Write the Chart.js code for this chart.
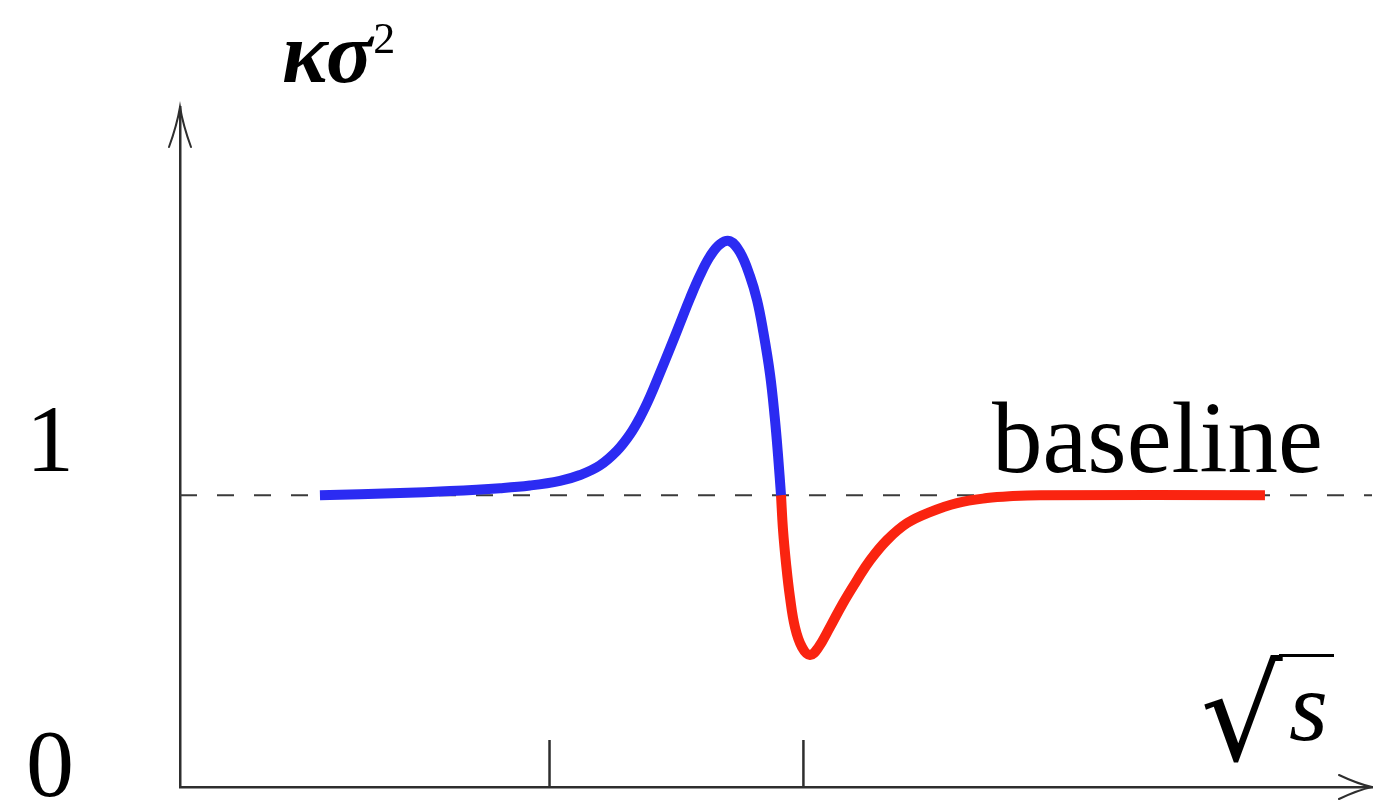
<!DOCTYPE html>
<html>
<head>
<meta charset="utf-8">
<script src="https://cdn.jsdelivr.net/npm/chart.js@4/dist/chart.umd.min.js"></script>
<style>
  html, body { margin: 0; padding: 0; background: #ffffff; overflow: hidden; }
  #wrap { width: 1373px; height: 801px; position: relative; }
</style>
</head>
<body>
<div id="wrap"><canvas id="chart"></canvas></div>
<script>
// Rising branch (blue): kappa*sigma^2 versus sqrt(s), above the baseline
const risingX = [1.174, 1.846, 2.265, 2.685, 2.936, 3.188, 3.356, 3.523, 3.666, 3.775, 3.859, 3.943, 4.027, 4.111, 4.195, 4.279, 4.362, 4.446, 4.530, 4.614, 4.698, 4.782, 4.841, 4.891, 4.950, 4.990, 5.017, 5.042];
const risingY = [1.000, 1.007, 1.014, 1.024, 1.033, 1.049, 1.069, 1.102, 1.152, 1.208, 1.266, 1.337, 1.419, 1.503, 1.589, 1.675, 1.753, 1.818, 1.860, 1.870, 1.832, 1.750, 1.668, 1.565, 1.414, 1.264, 1.137, 1.000];

// Falling branch (red): dip below the baseline, then recovery
const fallingX = [5.042, 5.059, 5.084, 5.117, 5.159, 5.218, 5.285, 5.352, 5.453, 5.562, 5.680, 5.789, 5.931, 6.099, 6.292, 6.518, 6.770, 6.988, 7.215, 9.102];
const fallingY = [1.000, 0.880, 0.767, 0.651, 0.548, 0.479, 0.452, 0.476, 0.548, 0.630, 0.709, 0.777, 0.846, 0.904, 0.942, 0.973, 0.990, 0.997, 1.000, 1.000];

// Reference level and axis marks
const baselineValue = 1;
const xTickValues = [3.1, 5.23];
const yTickValues = [0, 1];
const yTickLabels = ['0', '1'];
const xRange = [0, 10];
const yRange = [0, 2.33];

const toPoints = (xs, ys) => xs.map((x, i) => ({ x, y: ys[i] }));

const SERIF = '"Liberation Serif", "DejaVu Serif", serif';
const AXIS_COLOR = '#2e2e2e';

// Axis arrowheads, small x tick marks and the math labels
const annotations = {
  id: 'annotations',
  afterDraw(chart) {
    const { ctx, scales } = chart;
    const xs = scales.x, ys = scales.y;
    const x0 = xs.getPixelForValue(xRange[0]);
    const xEnd = xs.getPixelForValue(xRange[1]);
    const y0 = ys.getPixelForValue(yRange[0]);
    const yTop = ys.getPixelForValue(yRange[1]);
    ctx.save();
    ctx.strokeStyle = AXIS_COLOR;
    ctx.lineWidth = 2;
    ctx.lineCap = 'round';
    // y arrowhead
    ctx.beginPath();
    ctx.moveTo(x0 - 11, yTop + 40);
    ctx.quadraticCurveTo(x0 - 3, yTop + 18, x0, yTop);
    ctx.quadraticCurveTo(x0 + 3, yTop + 18, x0 + 11, yTop + 40);
    ctx.stroke();
    // x arrowhead
    ctx.beginPath();
    ctx.moveTo(xEnd - 33, y0 - 12);
    ctx.quadraticCurveTo(xEnd - 14, y0 - 3, xEnd, y0);
    ctx.quadraticCurveTo(xEnd - 14, y0 + 3, xEnd - 33, y0 + 12);
    ctx.stroke();
    // x tick marks pointing up from the axis
    ctx.lineWidth = 2.5;
    ctx.lineCap = 'butt';
    xTickValues.forEach(v => {
      const px = xs.getPixelForValue(v);
      ctx.beginPath();
      ctx.moveTo(px, y0);
      ctx.lineTo(px, y0 - 47);
      ctx.stroke();
    });

    ctx.fillStyle = '#000000';
    ctx.textBaseline = 'alphabetic';
    // y tick labels
    ctx.font = '96px ' + SERIF;
    ctx.textAlign = 'center';
    const labelShift = [9, -24];
    yTickValues.forEach((v, i) => {
      ctx.fillText(yTickLabels[i], 50, ys.getPixelForValue(v) + labelShift[i]);
    });

    // y axis title: kappa sigma^2
    ctx.textAlign = 'left';
    ctx.font = 'italic bold 86px ' + SERIF;
    ctx.fillText('κσ', 282, 82);
    const w = ctx.measureText('κσ').width;
    ctx.font = '44px ' + SERIF;
    ctx.fillText('2', 282 + w + 1, 53);

    // baseline label
    ctx.font = '101px ' + SERIF;
    ctx.fillText('baseline', 992, ys.getPixelForValue(baselineValue) - 23);

    // x axis title: sqrt(s)
    ctx.font = '100px "DejaVu Serif", ' + SERIF;
    const m = ctx.measureText('√');
    const gw = m.actualBoundingBoxLeft + m.actualBoundingBoxRight;
    const gh = m.actualBoundingBoxAscent + m.actualBoundingBoxDescent;
    const bx = 1203, by = 654, bw = 80, bh = 110;
    ctx.save();
    ctx.translate(bx, by);
    ctx.scale(bw / gw, bh / gh);
    ctx.fillText('√', m.actualBoundingBoxLeft, m.actualBoundingBoxAscent);
    ctx.restore();
    ctx.strokeStyle = '#000000';
    ctx.lineWidth = 3;
    ctx.beginPath();
    ctx.moveTo(bx + bw - 4, by + 1.5);
    ctx.lineTo(1334, by + 1.5);
    ctx.stroke();
    ctx.font = 'italic 100px ' + SERIF;
    ctx.fillText('s', 1289, 740);
    ctx.restore();
  }
};

new Chart(document.getElementById('chart'), {
  type: 'line',
  data: {
    datasets: [
      {
        label: 'rising',
        data: toPoints(risingX, risingY),
        borderColor: '#2b2bf2',
        borderWidth: 10,
        pointRadius: 0,
        tension: 0.4,
        fill: false,
        order: 0
      },
      {
        label: 'falling',
        data: toPoints(fallingX, fallingY),
        borderColor: '#fa2410',
        borderWidth: 10,
        pointRadius: 0,
        tension: 0.4,
        fill: false,
        order: 1
      },
      {
        label: 'baseline',
        data: [{ x: xRange[0], y: baselineValue }, { x: xRange[1], y: baselineValue }],
        borderColor: '#3a3a3a',
        borderWidth: 2,
        borderDash: [17, 20],
        pointRadius: 0,
        fill: false,
        order: 2
      }
    ]
  },
  options: {
    responsive: true,
    maintainAspectRatio: false,
    animation: false,
    events: [],
    layout: { padding: { left: 180, right: 1, top: 107, bottom: 14 } },
    plugins: { legend: { display: false }, tooltip: { enabled: false }, title: { display: false } },
    scales: {
      x: {
        type: 'linear',
        min: xRange[0],
        max: xRange[1],
        ticks: { display: false },
        grid: { display: false, drawTicks: false },
        border: { display: true, color: AXIS_COLOR, width: 2.5 }
      },
      y: {
        type: 'linear',
        min: yRange[0],
        max: yRange[1],
        ticks: { display: false },
        grid: { display: false, drawTicks: false },
        border: { display: true, color: AXIS_COLOR, width: 2.5 }
      }
    }
  },
  plugins: [annotations]
});
</script>
</body>
</html>
